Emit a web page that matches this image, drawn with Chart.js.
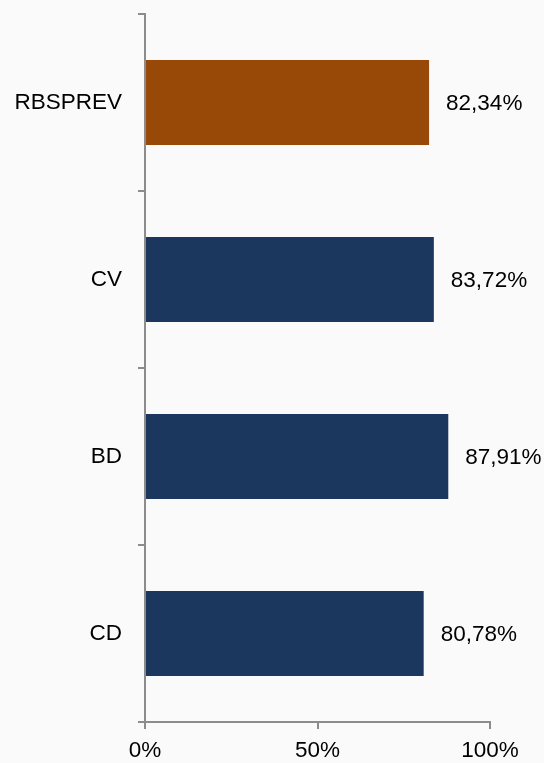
<!DOCTYPE html>
<html>
<head>
<meta charset="utf-8">
<script src="https://cdn.jsdelivr.net/npm/chart.js@4"></script>
<style>
  html, body { margin: 0; padding: 0; background: #fafafa; }
  #wrap { width: 544px; height: 763px; }
</style>
</head>
<body>
<div id="wrap"><canvas id="chart" width="544" height="763"></canvas></div>
<script>
var categories = ['RBSPREV', 'CV', 'BD', 'CD'];
var values = [82.34, 83.72, 87.91, 80.78];
var bar_colors = ['#984807', '#1b375e', '#1b375e', '#1b375e'];
var x_ticks = [0, 50, 100];

function fmt_pct(v)
{
  return v.toFixed(2).replace('.', ',') + '%';
}

// value labels to the right of each bar
var value_labels = {
  id: 'value_labels',
  afterDatasetsDraw: function (chart) {
    var ctx = chart.ctx;
    var meta = chart.getDatasetMeta(0);
    ctx.save();
    ctx.font = '22.5px "Liberation Sans", Arial, sans-serif';
    ctx.fillStyle = '#000';
    ctx.textAlign = 'left';
    ctx.textBaseline = 'middle';
    meta.data.forEach(function (bar, i) {
      ctx.fillText(fmt_pct(values[i]), bar.x + 17, bar.y + 1);
    });
    ctx.restore();
  }
};

window.onload = function ()
{
  var ctx = document.getElementById('chart').getContext('2d');
  new Chart(ctx, {
    type: 'bar',
    data: {
      labels: categories,
      datasets: [{
        data: values,
        backgroundColor: bar_colors,
        categoryPercentage: 0.96,
        barPercentage: 0.5
      }]
    },
    options: {
      indexAxis: 'y',
      responsive: false,
      animation: false,
      layout: { padding: { top: 14, right: 54, left: 0, bottom: 0 } },
      plugins: { legend: { display: false }, tooltip: { enabled: false } },
      scales: {
        x: {
          min: 0,
          max: 100,
          afterBuildTicks: function (axis) {
            axis.ticks = x_ticks.map(function (v) { return { value: v }; });
          },
          afterFit: function (axis) {
            axis.height = 41;
            axis.paddingLeft = 0;
            axis.paddingRight = 0;
          },
          grid: { drawOnChartArea: false, tickLength: 7, color: '#8c8c8c', lineWidth: 2 },
          border: { color: '#8c8c8c', width: 2 },
          ticks: {
            padding: 8,
            color: '#000',
            font: { family: '"Liberation Sans", Arial, sans-serif', size: 22.5 },
            callback: function (v) { return v + '%'; }
          }
        },
        y: {
          afterFit: function (axis) {
            axis.width = 145;
            axis.paddingTop = 0;
            axis.paddingBottom = 0;
          },
          grid: { drawOnChartArea: false, offset: true, tickLength: 7, color: '#8c8c8c', lineWidth: 2 },
          border: { color: '#8c8c8c', width: 2 },
          ticks: {
            padding: 16,
            color: '#000',
            font: { family: '"Liberation Sans", Arial, sans-serif', size: 22.5 }
          }
        }
      }
    },
    plugins: [value_labels]
  });
};
</script>
</body>
</html>
